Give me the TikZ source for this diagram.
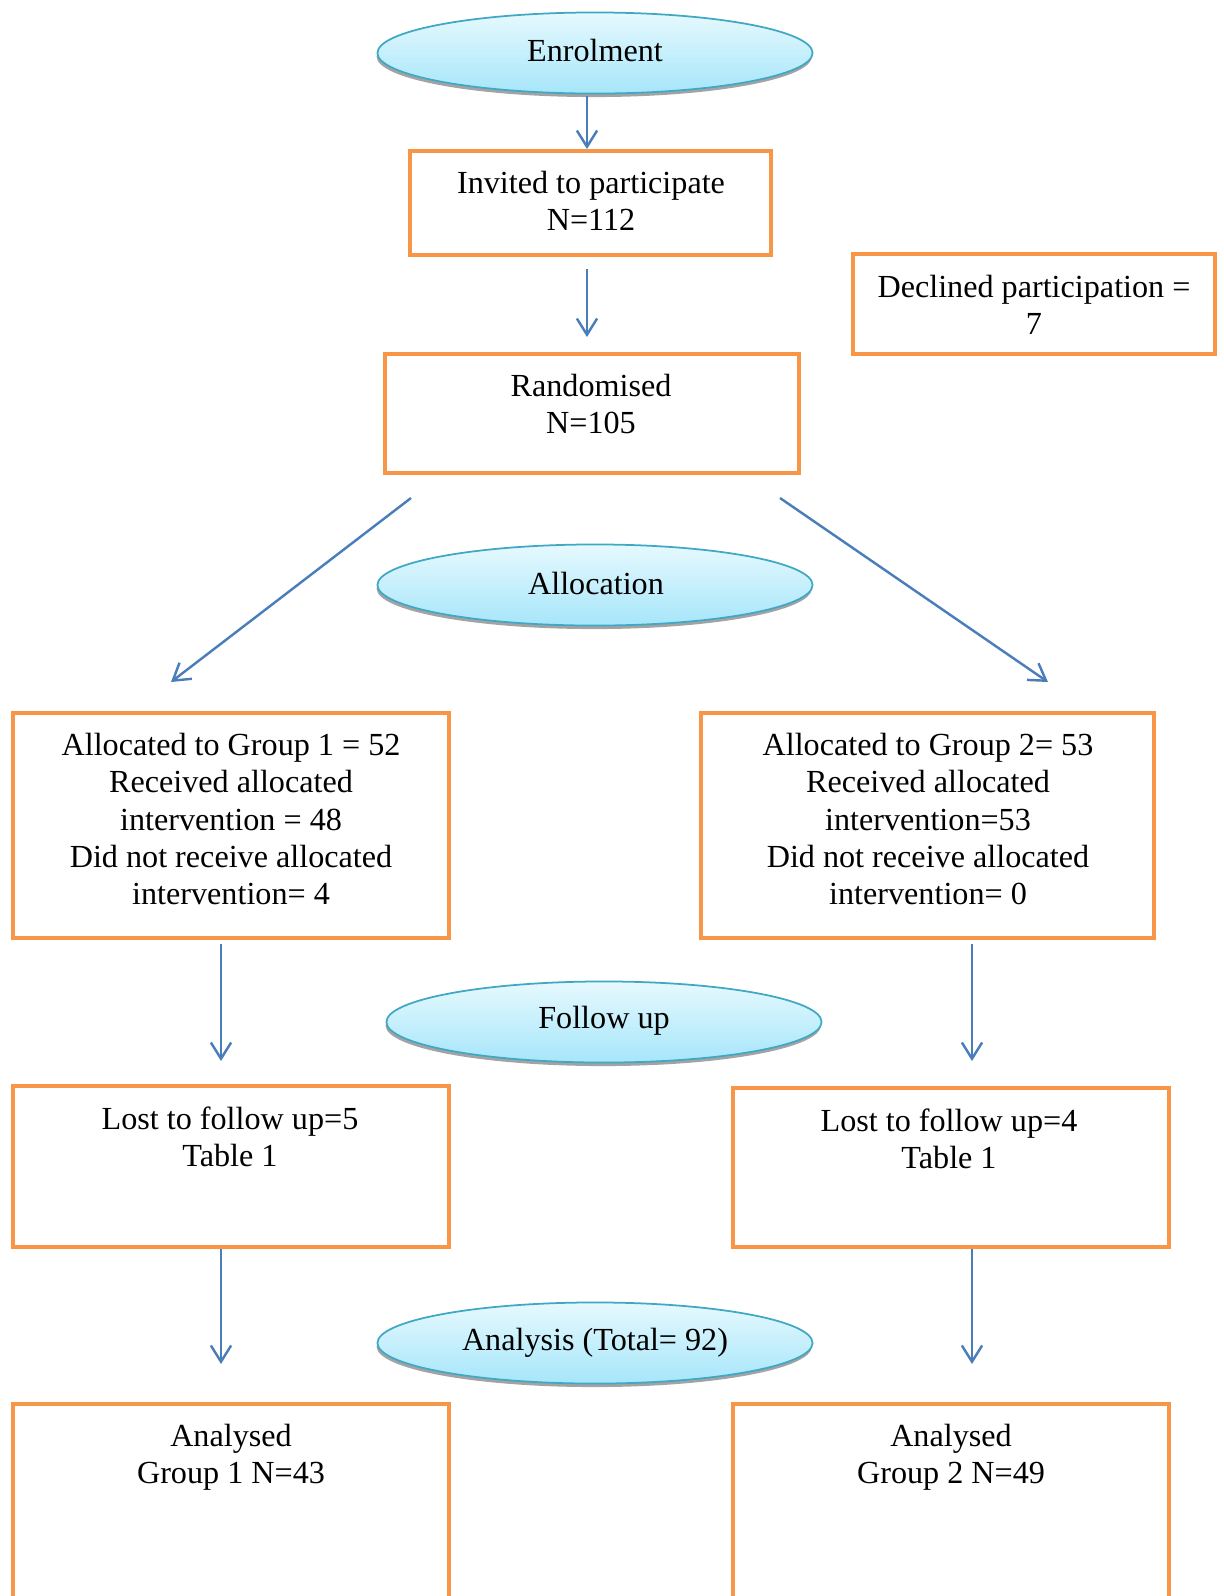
\documentclass[tikz,border=0pt]{standalone}
\usepackage{fontspec}
\setmainfont{Liberation Serif}
\usetikzlibrary{arrows.meta,fit,shapes.geometric,shadows}
\definecolor{boxorange}{HTML}{F79646}
\definecolor{arrblue}{HTML}{4A7EBB}
\definecolor{elltop}{HTML}{E6F9FE}
\definecolor{ellbot}{HTML}{A6E6FA}
\definecolor{elledge}{HTML}{40A8C4}
\begin{document}
\begin{tikzpicture}[x=0.37pt,y=-0.37pt,
  stagebox/.style={draw=boxorange,line width=1.75pt,inner sep=0pt,rectangle},
  stageell/.style={ellipse,draw=elledge,line width=0.65pt,top color=elltop,bottom color=ellbot,
    minimum width=161pt,minimum height=30pt,inner sep=0pt,
    drop shadow={shadow xshift=-0.3pt,shadow yshift=-1.3pt,fill=gray!80,opacity=0.9}},
  txt/.style={align=center,inner sep=0pt,font=\fontsize{11.9}{13.7}\selectfont},
  arr/.style={draw=arrblue,line width=0.9pt,-{Straight Barb[length=6pt,width=7.5pt,line width=0.9pt]}}]
\useasboundingbox (0,0) rectangle (1224,1596);
\clip (0,0) rectangle (1224,1596);
% ellipses
\node[stageell] (enrol) at (595,53) {};
\node[stageell] (alloc) at (595,585) {};
\node[stageell] (follow) at (604,1022) {};
\node[stageell] (analysis) at (595,1343) {};
\node[txt] (tenrol) at (595,50) {Enrolment};
\node[txt] (talloc) at (596,583) {Allocation};
\node[txt] (tfollow) at (604,1021) {Follow up};
\node[txt] (tanalysis) at (595,1343) {Analysis (Total= 92)};
% boxes
\node[stagebox,fit={(410,151) (771,255)}] (invited) {};
\node[stagebox,fit={(853,254) (1215,354)}] (declined) {};
\node[stagebox,fit={(385,354) (799,473)}] (random) {};
\node[stagebox,fit={(13,713) (449,938)}] (group1) {};
\node[stagebox,fit={(701,713) (1154,938)}] (group2) {};
\node[stagebox,fit={(13,1086) (449,1247)}] (lost1) {};
\node[stagebox,fit={(733,1088) (1169,1247)}] (lost2) {};
\node[stagebox,fit={(13,1404) (449,1640)}] (anal1) {};
\node[stagebox,fit={(733,1404) (1169,1640)}] (anal2) {};
% texts
\node[txt] (tinvited) at (591,201) {Invited to participate\\N=112};
\node[txt] (tdeclined) at (1034,305) {Declined participation =\\7};
\node[txt] (trandom) at (591,404) {Randomised\\N=105};
\node[txt] (tgroup1) at (231,819) {Allocated to Group 1 = 52\\Received allocated\\intervention = 48\\Did not receive allocated\\intervention= 4};
\node[txt] (tgroup2) at (928,819) {Allocated to Group 2= 53\\Received allocated\\intervention=53\\Did not receive allocated\\intervention= 0};
\node[txt] (tlost1) at (230,1137) {Lost to follow up=5\\Table 1};
\node[txt] (tlost2) at (949,1139) {Lost to follow up=4\\Table 1};
\node[txt] (tanal1) at (231,1457) {Analysed\\Group 1 N=43};
\node[txt] (tanal2) at (951,1457) {Analysed\\Group 2 N=49};
% arrow end points
\coordinate (a1s) at (587,96);
\coordinate (a1e) at (587,149);
\coordinate (a2s) at (587,269);
\coordinate (a2e) at (587,337);
\coordinate (a3s) at (411,498);
\coordinate (a3e) at (171,682);
\coordinate (a4s) at (780,498);
\coordinate (a4e) at (1048,682);
\coordinate (a5s) at (221,944);
\coordinate (a5e) at (221,1061);
\coordinate (a6s) at (972,944);
\coordinate (a6e) at (972,1061);
\coordinate (a7s) at (221,1249);
\coordinate (a7e) at (221,1364);
\coordinate (a8s) at (972,1249);
\coordinate (a8e) at (972,1364);
\draw[arr] (a1s) -- (a1e);
\draw[arr] (a2s) -- (a2e);
\draw[arr] (a3s) -- (a3e);
\draw[arr] (a4s) -- (a4e);
\draw[arr] (a5s) -- (a5e);
\draw[arr] (a6s) -- (a6e);
\draw[arr] (a7s) -- (a7e);
\draw[arr] (a8s) -- (a8e);
\end{tikzpicture}
\end{document}
